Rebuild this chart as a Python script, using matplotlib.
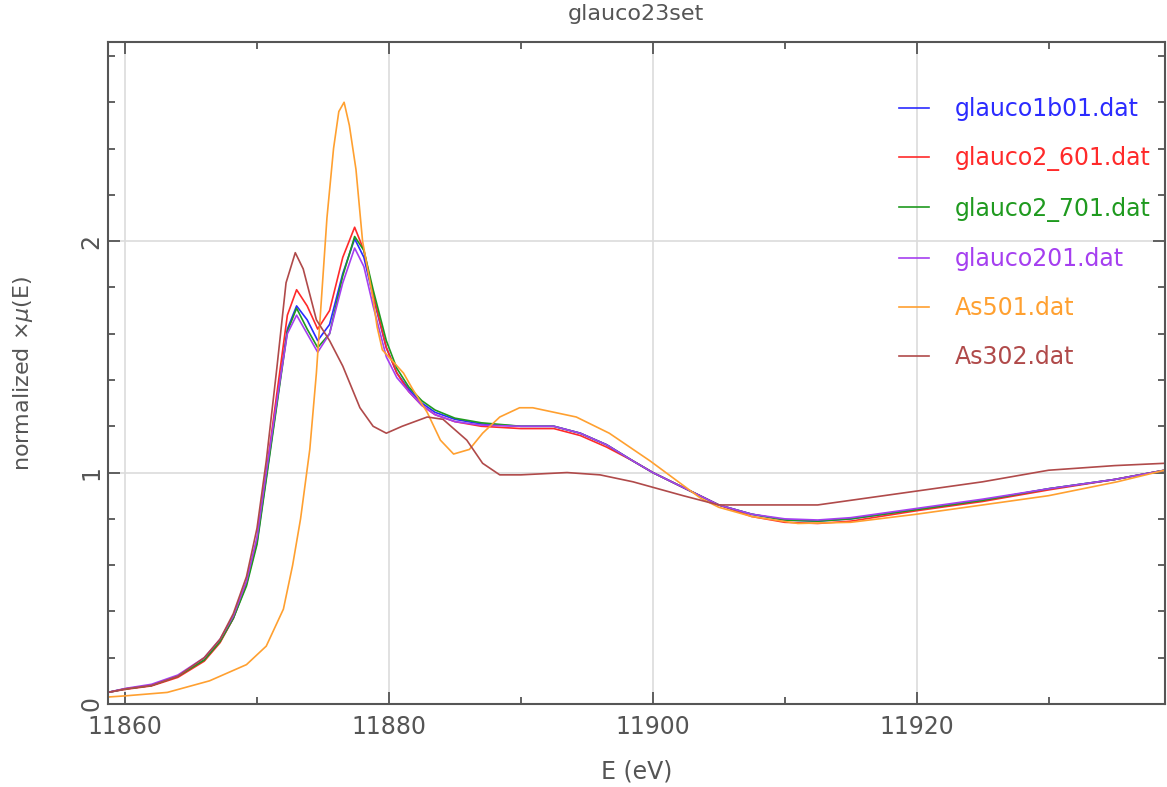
import numpy as np
import matplotlib.pyplot as plt
from matplotlib.ticker import MultipleLocator

# energy grid shared by the four glauco scans
e_glauco = [11858.7, 11860, 11862, 11864, 11866, 11867.2, 11868.2, 11869.2, 11870, 11870.7,
            11871.5, 11872.3, 11873.0, 11873.8, 11874.6, 11875.5, 11876.5, 11877.4, 11878.1,
            11878.8, 11879.8, 11880.6, 11881.5, 11882.5, 11883.5, 11885, 11887, 11890, 11892.5,
            11894.5, 11896.5, 11898.5, 11900, 11902.5, 11905, 11907.5, 11910, 11912.5, 11915,
            11920, 11925, 11930, 11935, 11938.8]

mu_1b01 = [0.05, 0.065, 0.08, 0.12, 0.19, 0.27, 0.37, 0.52, 0.70, 0.98,
           1.30, 1.62, 1.72, 1.66, 1.57, 1.64, 1.86, 2.01, 1.93,
           1.76, 1.54, 1.43, 1.36, 1.30, 1.26, 1.23, 1.21, 1.20, 1.20,
           1.17, 1.12, 1.05, 1.00, 0.93, 0.86, 0.82, 0.795, 0.79, 0.80,
           0.84, 0.88, 0.93, 0.97, 1.01]
mu_2_601 = [0.05, 0.063, 0.078, 0.115, 0.185, 0.265, 0.37, 0.52, 0.71, 1.00,
            1.34, 1.68, 1.79, 1.72, 1.62, 1.70, 1.93, 2.06, 1.96,
            1.77, 1.54, 1.43, 1.35, 1.29, 1.25, 1.22, 1.20, 1.19, 1.19,
            1.16, 1.11, 1.05, 1.00, 0.93, 0.86, 0.81, 0.785, 0.78, 0.79,
            0.835, 0.875, 0.925, 0.97, 1.01]
mu_2_701 = [0.05, 0.065, 0.08, 0.12, 0.19, 0.27, 0.37, 0.51, 0.69, 0.97,
            1.29, 1.61, 1.71, 1.62, 1.54, 1.60, 1.85, 2.02, 1.96,
            1.79, 1.57, 1.45, 1.37, 1.31, 1.27, 1.235, 1.215, 1.20, 1.20,
            1.17, 1.12, 1.05, 1.00, 0.93, 0.86, 0.82, 0.795, 0.79, 0.80,
            0.84, 0.88, 0.93, 0.97, 1.01]
mu_201 = [0.05, 0.067, 0.085, 0.125, 0.20, 0.28, 0.38, 0.53, 0.72, 1.00,
          1.31, 1.60, 1.68, 1.60, 1.52, 1.60, 1.82, 1.97, 1.89,
          1.72, 1.50, 1.41, 1.35, 1.29, 1.25, 1.22, 1.205, 1.20, 1.20,
          1.17, 1.12, 1.05, 1.00, 0.93, 0.86, 0.82, 0.80, 0.795, 0.805,
          0.845, 0.885, 0.93, 0.97, 1.01]

e_as501 = [11858.7, 11860, 11863.2, 11866.4, 11868, 11869.2, 11870.7, 11872, 11872.7, 11873.3,
           11874, 11874.5, 11875.3, 11875.8, 11876.2, 11876.6, 11877.0, 11877.5, 11878,
           11878.8, 11879.1, 11879.5, 11880.3, 11881.1, 11881.8, 11882.9, 11883.9, 11884.9,
           11886.1, 11887.1, 11888.4, 11889.9, 11890.9, 11894.2, 11896.7, 11899.8, 11903.6,
           11905, 11907.5, 11911, 11915, 11920, 11925, 11930, 11935.2, 11938.8]
mu_as501 = [0.03, 0.035, 0.05, 0.10, 0.14, 0.17, 0.25, 0.41, 0.60, 0.80,
            1.10, 1.43, 2.10, 2.40, 2.56, 2.60, 2.50, 2.31, 2.00,
            1.75, 1.63, 1.53, 1.48, 1.43, 1.36, 1.26, 1.14, 1.08,
            1.10, 1.17, 1.24, 1.28, 1.28, 1.24, 1.17, 1.05, 0.89,
            0.85, 0.81, 0.78, 0.785, 0.82, 0.86, 0.90, 0.96, 1.01]

e_as302 = [11858.7, 11860, 11862, 11864, 11866, 11867.2, 11868.2, 11869.2, 11870, 11870.7,
           11871.5, 11872.2, 11872.9, 11873.5, 11874.5, 11875.5, 11876.5, 11877.8, 11878.8,
           11879.8, 11881, 11882.9, 11884.1, 11885.9, 11887.1, 11888.4, 11890, 11893.5,
           11896, 11898.5, 11902.3, 11905, 11908, 11912.5, 11920, 11925, 11930, 11935, 11938.8]
mu_as302 = [0.05, 0.065, 0.08, 0.12, 0.20, 0.28, 0.39, 0.55, 0.76, 1.05,
            1.45, 1.82, 1.95, 1.88, 1.66, 1.57, 1.46, 1.28, 1.20,
            1.17, 1.20, 1.24, 1.23, 1.14, 1.04, 0.99, 0.99, 1.00,
            0.99, 0.96, 0.90, 0.86, 0.86, 0.86, 0.92, 0.96, 1.01, 1.03, 1.04]

labels = ['glauco1b01.dat', 'glauco2_601.dat', 'glauco2_701.dat', 'glauco201.dat',
          'As501.dat', 'As302.dat']
colors = ['#2b2bff', '#ff2a2a', '#1f9a1f', '#a53ff0', '#ffa030', '#b04a4a']

series = [(e_glauco, mu_1b01), (e_glauco, mu_2_601), (e_glauco, mu_2_701),
          (e_glauco, mu_201), (e_as501, mu_as501), (e_as302, mu_as302)]

txt = '#555555'
fig = plt.figure(figsize=(11.67, 7.87), dpi=100)
ax = fig.add_axes([0.0925, 0.1055, 0.9055, 0.841])

for (e, mu), lab, c in zip(series, labels, colors):
    ax.plot(e, mu, color=c, lw=1.2, label=lab)

ax.set_xlim(11858.7, 11938.8)
ax.set_ylim(0, 2.86)
ax.xaxis.set_major_locator(MultipleLocator(20))
ax.xaxis.set_minor_locator(MultipleLocator(10))
ax.yaxis.set_major_locator(MultipleLocator(1))
ax.yaxis.set_minor_locator(MultipleLocator(0.2))
ax.grid(True, which='major', color='#dcdcdc', lw=1.2)
ax.set_axisbelow(True)

ax.tick_params(which='both', direction='in', top=True, right=True, colors='#555555',
               labelcolor=txt, labelsize=17, width=1.3)
ax.tick_params(which='major', length=8.5)
ax.tick_params(which='minor', length=5)
ax.tick_params(axis='x', pad=8)
for lbl in ax.get_yticklabels():
    lbl.set_rotation(90)
    lbl.set_va('center')
for sp in ax.spines.values():
    sp.set_color('#555555')
    sp.set_linewidth(1.5)

ax.set_xlabel('E (eV)', fontsize=17, color=txt, labelpad=15)
ax.set_ylabel('normalized $\\times\\mu$(E)', fontsize=16, color=txt, labelpad=32)
ax.set_title('glauco23set', fontsize=16, color=txt, pad=16)

leg = ax.legend(loc='upper left', bbox_to_anchor=(0.749, 0.917), frameon=False, fontsize=17,
                labelcolor='linecolor', handlelength=1.27, handletextpad=1.06,
                labelspacing=1.07, borderaxespad=0, borderpad=0)

fig.savefig('out.png', dpi=100)
